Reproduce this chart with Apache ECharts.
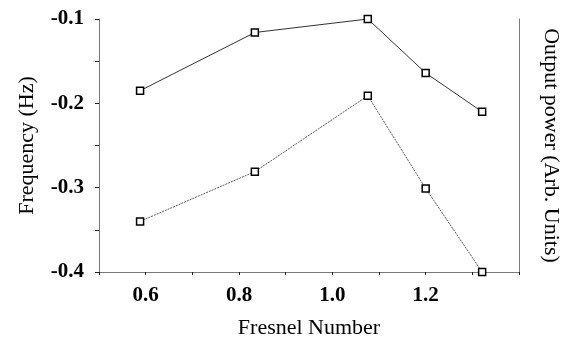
<!DOCTYPE html>
<html><head><meta charset="utf-8">
<script src="https://cdn.jsdelivr.net/npm/echarts@6/dist/echarts.min.js"></script>
<style>html,body{margin:0;padding:0;background:#fff}#c{width:567px;height:341px}</style>
</head><body><div id="c"></div>
<script>
var fresnel = [0.588, 0.834, 1.076, 1.2, 1.321];
var frequency = [-0.185, -0.116, -0.1, -0.164, -0.21];
var power = [-0.34, -0.281, -0.191, -0.301, -0.4];
var xTickLabels = ['0.6', '0.8', '1.0', '1.2'];
var yTickLabels = ['-0.1', '-0.2', '-0.3', '-0.4'];

function pairs(xs, ys){ return xs.map(function(x,i){return [x, ys[i]];}); }
var font = 'Liberation Serif';
var axisGray = '#7a7a7a';
var chart = echarts.init(document.getElementById('c'));
chart.setOption({
  animation:false,
  grid:{left:99, right:48, top:19, bottom:69, containLabel:false, outerBoundsMode:'none'},
  xAxis:{
    type:'value', min:0.5, max:1.4, interval:0.1,
    name:'Fresnel Number', nameLocation:'middle', nameGap:45,
    nameTextStyle:{fontFamily:font, fontSize:22, color:'#000'},
    axisLine:{show:true, onZero:false, lineStyle:{color:axisGray, width:1}},
    axisTick:{show:true, inside:false, length:3, lineStyle:{color:'#222'}},
    splitLine:{show:false},
    axisLabel:{fontFamily:font, fontSize:21, fontWeight:'bold', color:'#000', margin:13,
      formatter:function(v){ var s=(Math.round(v*10)/10).toFixed(1); return xTickLabels.indexOf(s)>=0 ? s : ''; }}
  },
  yAxis:[{
    type:'value', min:-0.4, max:-0.1, interval:0.1,
    name:'Frequency (Hz)', nameLocation:'middle', nameGap:61, nameRotate:90,
    nameTextStyle:{fontFamily:font, fontSize:22, color:'#000'},
    axisLine:{show:true, onZero:false, lineStyle:{color:axisGray, width:1}},
    axisTick:{show:true, length:4, lineStyle:{color:'#222'}},
    minorTick:{show:true, splitNumber:2, length:4, lineStyle:{color:'#222'}},
    splitLine:{show:false},
    axisLabel:{fontFamily:font, fontSize:21, fontWeight:'bold', color:'#000', margin:15,
      formatter:function(v){ var s=(Math.round(v*10)/10).toFixed(1); return yTickLabels.indexOf(s)>=0 ? s : ''; }}
  },{
    type:'value', min:-0.4, max:-0.1, interval:0.1, position:'right',
    name:'Output power (Arb. Units)', nameLocation:'middle', nameGap:21, nameRotate:-90,
    nameTextStyle:{fontFamily:font, fontSize:22, color:'#000'},
    axisLine:{show:true, onZero:false, lineStyle:{color:axisGray, width:1}},
    axisTick:{show:false}, axisLabel:{show:false}, splitLine:{show:false}
  }],
  series:[{
    type:'line', data:pairs(fresnel, frequency), yAxisIndex:0,
    symbol:'rect', symbolSize:7,
    lineStyle:{color:'#333', width:1, type:'solid'},
    itemStyle:{color:'#fff', borderColor:'#000', borderWidth:1.5}
  },{
    type:'line', data:pairs(fresnel, power), yAxisIndex:1,
    symbol:'rect', symbolSize:7,
    lineStyle:{color:'#555', width:1, type:[2,1]},
    itemStyle:{color:'#fff', borderColor:'#000', borderWidth:1.5}
  }]
});
</script></body></html>
